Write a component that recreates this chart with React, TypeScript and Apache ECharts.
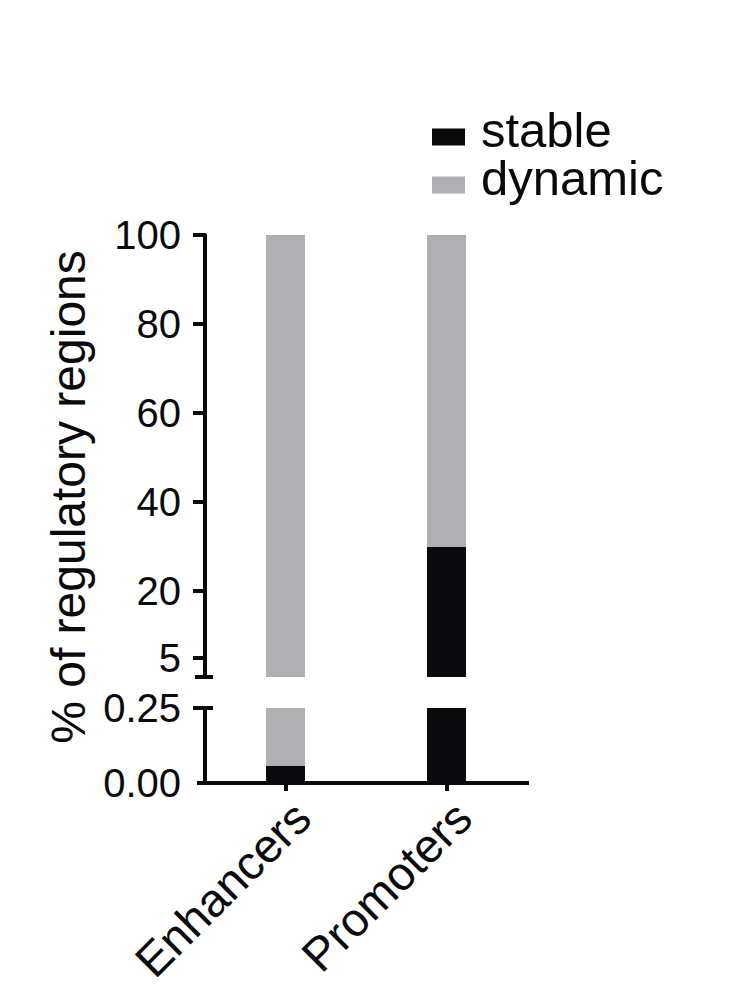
import React, { useEffect, useRef } from "react";
import * as echarts from "echarts";

const CATEGORIES = ["Enhancers", "Promoters"];
const STABLE = [0.057, 29.9];
const DYNAMIC = [99.943, 70.1];
const UPPER_TICKS = [5, 20, 40, 60, 80, 100];
const LOWER_TICKS = [0, 0.25];
const LOWER_TICK_MARKS = [0.25];

const FONT = '"Liberation Sans", Arial, Helvetica, sans-serif';
const BLACK = "#0a0a0c";
const GREY = "#b0b0b3";

const G_LEFT = 205;
const G_WIDTH = 322;
const UP_TOP = 235;
const UP_H = 442;
const LO_TOP = 708;
const LO_H = 75;

export default function App() {
  const ref = useRef<HTMLDivElement>(null);
  useEffect(() => {
    if (!ref.current) return;
    const chart = echarts.init(ref.current, null, { renderer: "svg" });
    const axisLine = { show: true, onZero: false, lineStyle: { color: BLACK, width: 4 } };
    const axisTick = { show: true, length: 12, lineStyle: { color: BLACK, width: 4 } };
    const labelStyle = { color: BLACK, fontSize: 40, fontFamily: FONT, margin: 24 };
    const upBottom = UP_TOP + UP_H;
    const loBottom = LO_TOP + LO_H;
    chart.setOption({
      animation: false,
      backgroundColor: "#ffffff",
      legend: {
        orient: "vertical",
        left: 432,
        top: 105,
        padding: 0,
        itemWidth: 33,
        itemHeight: 17,
        itemGap: -1,
        icon: "rect",
        data: ["stable", "dynamic"],
        formatter: (name: string) => `{t|${name}}\n{s| }`,
        textStyle: {
          fontSize: 49,
          color: BLACK,
          fontFamily: FONT,
          padding: [0, 0, 0, 11],
          rich: {
            t: { fontSize: 49, color: BLACK, fontFamily: FONT, lineHeight: 29 },
            s: { fontSize: 2, lineHeight: 15 },
          },
        },
      },
      grid: [
        { left: G_LEFT, width: G_WIDTH, top: UP_TOP, height: UP_H, containLabel: false, outerBoundsMode: "none" },
        { left: G_LEFT, width: G_WIDTH, top: LO_TOP, height: LO_H, containLabel: false, outerBoundsMode: "none" },
      ],
      xAxis: [
        { type: "category", gridIndex: 0, data: CATEGORIES, show: false },
        {
          type: "category",
          gridIndex: 1,
          data: CATEGORIES,
          axisLine,
          axisTick: { show: true, length: 8, alignWithLabel: true, lineStyle: { color: BLACK, width: 4 } },
          axisLabel: { interval: 0, rotate: 45, fontSize: 47, color: BLACK, fontFamily: FONT, margin: 10, verticalAlign: "top" },
        },
      ],
      yAxis: [
        {
          type: "value",
          gridIndex: 0,
          min: 0.7,
          max: 100,
          splitLine: { show: false },
          axisLine,
          axisTick: { ...axisTick, customValues: UPPER_TICKS },
          axisLabel: { ...labelStyle, customValues: UPPER_TICKS },
        },
        {
          type: "value",
          gridIndex: 1,
          min: 0,
          max: 0.25,
          interval: 0.25,
          splitLine: { show: false },
          axisLine,
          axisTick: { ...axisTick, customValues: LOWER_TICK_MARKS },
          axisLabel: { ...labelStyle, customValues: LOWER_TICKS, formatter: (v: number) => v.toFixed(2) },
        },
      ],
      series: [
        { name: "stable", type: "bar", xAxisIndex: 0, yAxisIndex: 0, stack: "u", barWidth: 39, data: STABLE, itemStyle: { color: BLACK }, clip: true },
        { name: "dynamic", type: "bar", xAxisIndex: 0, yAxisIndex: 0, stack: "u", barWidth: 39, data: DYNAMIC, itemStyle: { color: GREY }, clip: true },
        { name: "stable", type: "bar", xAxisIndex: 1, yAxisIndex: 1, stack: "l", barWidth: 39, data: STABLE, itemStyle: { color: BLACK }, clip: true },
        { name: "dynamic", type: "bar", xAxisIndex: 1, yAxisIndex: 1, stack: "l", barWidth: 39, data: DYNAMIC, itemStyle: { color: GREY }, clip: true },
      ],
      graphic: [
        { type: "line", shape: { x1: G_LEFT - 10, y1: upBottom, x2: G_LEFT + 8, y2: upBottom }, style: { stroke: BLACK, lineWidth: 4 } },
        { type: "line", shape: { x1: G_LEFT - 10, y1: LO_TOP, x2: G_LEFT + 8, y2: LO_TOP }, style: { stroke: BLACK, lineWidth: 4 } },
        { type: "line", shape: { x1: G_LEFT - 8, y1: loBottom, x2: G_LEFT, y2: loBottom }, style: { stroke: BLACK, lineWidth: 4 } },
        { type: "line", shape: { x1: G_LEFT + G_WIDTH, y1: loBottom, x2: G_LEFT + G_WIDTH + 2, y2: loBottom }, style: { stroke: BLACK, lineWidth: 4 } },
        {
          type: "text",
          x: 68,
          y: 497,
          rotation: Math.PI / 2,
          style: {
            text: "% of regulatory regions",
            fontSize: 48,
            fontFamily: FONT,
            fill: BLACK,
            textAlign: "center",
            textVerticalAlign: "middle",
          },
        },
      ],
    });
    return () => chart.dispose();
  }, []);
  return <div ref={ref} style={{ position: "fixed", left: 0, top: 0, width: 737, height: 988, background: "#fff" }} />;
}
